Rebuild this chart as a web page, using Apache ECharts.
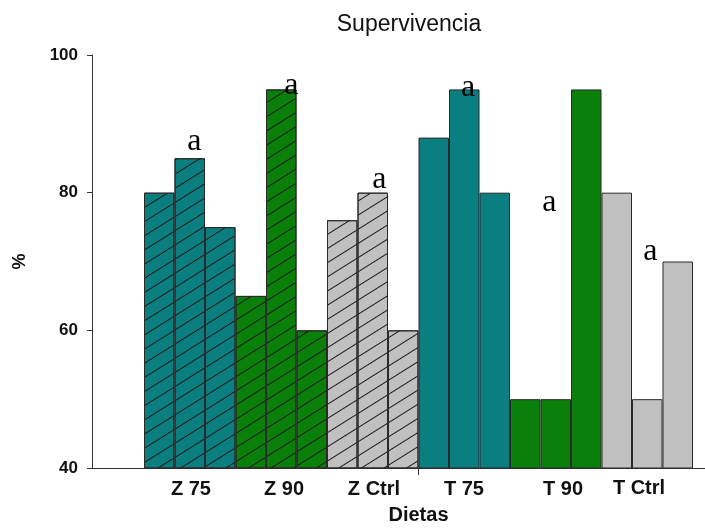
<!DOCTYPE html>
<html>
<head>
<meta charset="utf-8">
<script src="https://cdn.jsdelivr.net/npm/echarts@6/dist/echarts.min.js"></script>
<style>
  html, body { margin: 0; padding: 0; background: #fff; }
  #chart { width: 705px; height: 529px; }
</style>
</head>
<body>
<div id="chart"></div>
<script>
// Supervivencia por dieta, tres réplicas por tratamiento
const groups = ['Z 75', 'Z 90', 'Z Ctrl', 'T 75', 'T 90', 'T Ctrl'];
const replicateValues = [
  [80, 85, 75],
  [65, 95, 60],
  [76, 80, 60],
  [88, 95, 80],
  [50, 50, 95],
  [80, 50, 70]
];
const groupColors = ['#0b7f7f', '#0a7f0a', '#c0c0c0', '#0b7f7f', '#0a7f0a', '#c0c0c0'];
const groupHatched = [true, true, true, false, false, false];

// letras de significancia (posición en unidades de barra / valor)
const letters = ['a', 'a', 'a', 'a', 'a', 'a'];
const letterX = [1.65, 4.83, 7.72, 10.63, 13.29, 16.6];
const letterY = [87.4, 95.5, 81.9, 95.2, 78.5, 71.5];

// posición de cada nombre de grupo en el eje x (unidades de barra)
const groupLabelAt = [1.54, 4.59, 7.54, 10.49, 13.74, 16.23];
// marca de separación entre Z y T
const dividerAt = [9];

const yMin = 40, yMax = 100, yStep = 20;

const hatch = {
  symbol: 'rect',
  symbolSize: 1,
  dashArrayX: [1, 0],
  dashArrayY: [1, 10.8],
  rotation: -0.56,
  color: '#1a1a1a'
};

const barNames = [];
const barData = [];
groups.forEach((g, gi) => {
  replicateValues[gi].forEach((v, r) => {
    barNames.push(g + ' #' + (r + 1));
    barData.push({
      value: v,
      itemStyle: {
        color: groupColors[gi],
        decal: groupHatched[gi] ? hatch : null
      }
    });
  });
});

const labelFont = { fontFamily: 'Liberation Sans', fontWeight: 'bold', color: '#111' };

const chart = echarts.init(document.getElementById('chart'));
chart.setOption({
  animation: false,
  title: {
    text: 'Supervivencia',
    left: 404,
    top: 8,
    textAlign: 'center',
    textStyle: { fontFamily: 'Liberation Sans', fontSize: 23, fontWeight: 'normal', color: '#111' }
  },
  grid: [
    { left: 92, right: 0, top: 55, bottom: 61, outerBoundsMode: 'none' },
    { left: 144, right: 12, top: 55, bottom: 61, outerBoundsMode: 'none' }
  ],
  xAxis: [
    {
      gridIndex: 0, type: 'value', min: 0, max: 1,
      axisLine: { show: true, lineStyle: { color: '#333', width: 1 } },
      axisTick: { show: false }, axisLabel: { show: false }, splitLine: { show: false }
    },
    {
      gridIndex: 1, type: 'category', data: barNames,
      show: false
    },
    {
      gridIndex: 1, type: 'value', min: 0, max: barNames.length, position: 'bottom',
      axisLine: { show: false },
      splitLine: { show: false },
      axisTick: {
        show: true, length: 7, customValues: dividerAt,
        lineStyle: { color: '#333' }
      },
      axisLabel: {
        show: true, margin: 11, fontSize: 20, ...labelFont,
        customValues: groupLabelAt,
        formatter: (v) => {
          const i = groupLabelAt.indexOf(v);
          const name = i >= 0 ? groups[i] : '';
          return name === 'T Ctrl' ? '{up|' + name + '}' : name;
        },
        rich: { up: { fontSize: 20, ...labelFont, lineHeight: 18 } }
      },
      name: 'Dietas', nameLocation: 'middle', nameGap: 37,
      nameTextStyle: { fontSize: 20, ...labelFont }
    }
  ],
  yAxis: [
    {
      gridIndex: 0, type: 'value', min: yMin, max: yMax, interval: yStep,
      axisLine: { show: true, lineStyle: { color: '#333', width: 1 } },
      axisTick: { show: true, inside: false, length: 5, lineStyle: { color: '#333' } },
      axisLabel: { margin: 14, fontSize: 17, ...labelFont },
      splitLine: { show: false },
      name: '%', nameLocation: 'middle', nameGap: 63,
      nameTextStyle: { fontSize: 18, ...labelFont }
    },
    { gridIndex: 1, type: 'value', min: yMin, max: yMax, show: false }
  ],
  series: [
    {
      type: 'bar',
      xAxisIndex: 1, yAxisIndex: 1,
      data: barData,
      barWidth: '100%',
      barCategoryGap: 0,
      itemStyle: { borderColor: '#2a2a2a', borderWidth: 1 },
      silent: true
    },
    {
      type: 'scatter',
      xAxisIndex: 2, yAxisIndex: 1,
      symbolSize: 0,
      silent: true,
      itemStyle: { opacity: 1 },
      data: letterX.map((x, i) => [x, letterY[i]]),
      label: {
        show: true, position: 'inside',
        formatter: (p) => letters[p.dataIndex],
        fontFamily: 'Liberation Serif', fontSize: 32, color: '#000',
        textBorderWidth: 0
      }
    }
  ]
});
</script>
</body>
</html>
